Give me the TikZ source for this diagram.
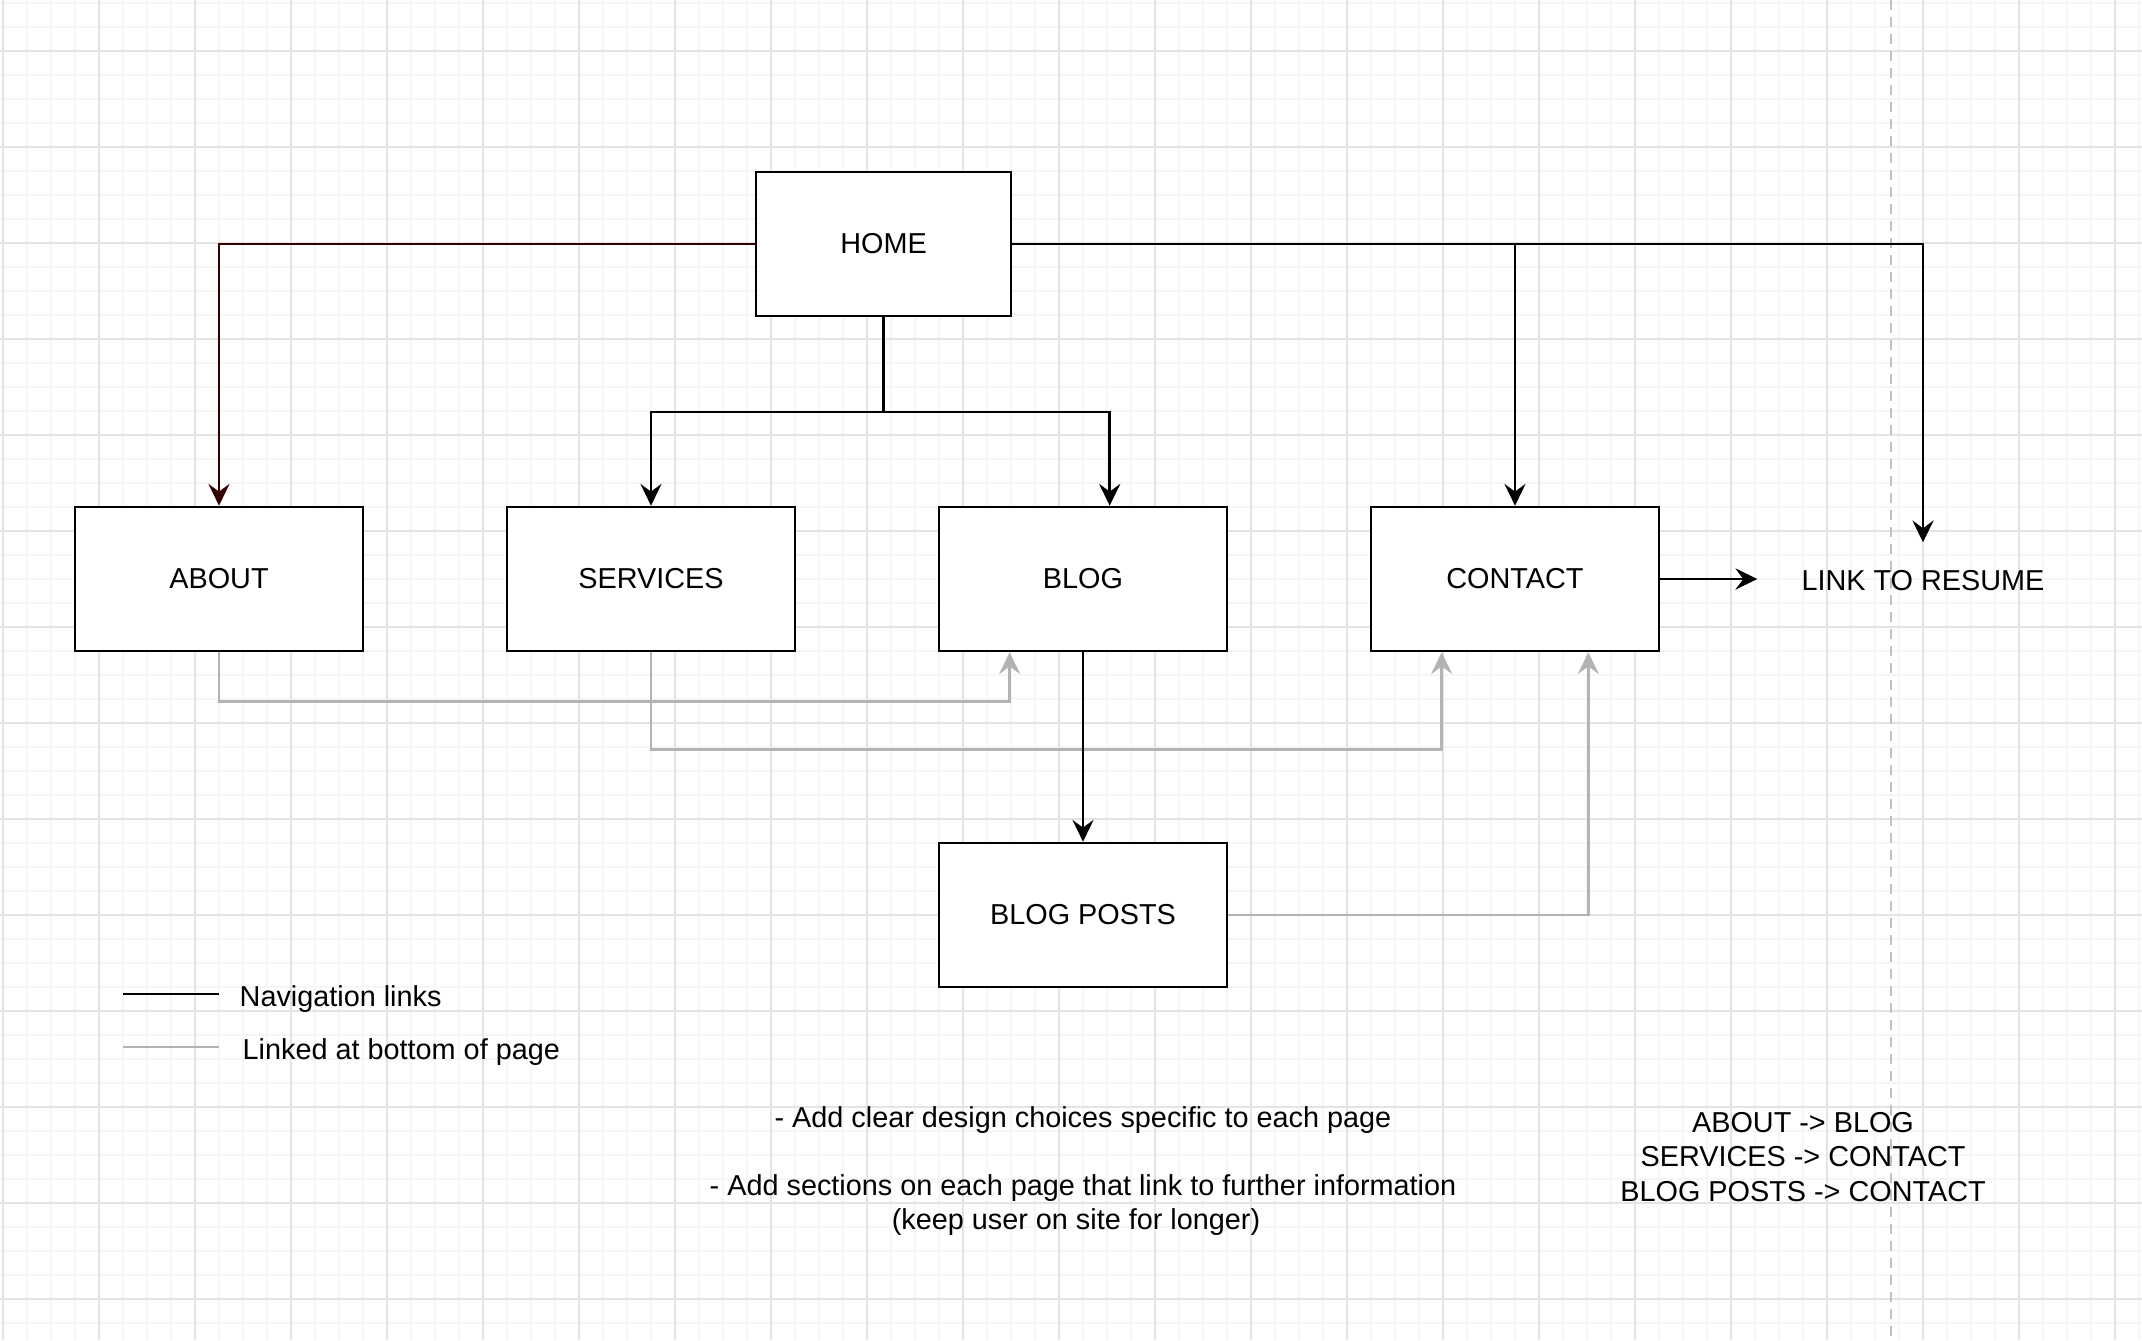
\documentclass[tikz,border=0pt]{standalone}
\usepackage{fontspec}
\setmainfont{Liberation Sans}
\usetikzlibrary{arrows.meta}
\definecolor{linkgray}{RGB}{179,179,179}
\definecolor{homebrown}{RGB}{51,0,0}
\definecolor{minorgray}{RGB}{246,246,246}
\definecolor{majorgray}{RGB}{228,228,228}
\definecolor{breakgray}{RGB}{192,192,192}

\begin{document}
\begin{tikzpicture}
	[x=0.1mm,y=-0.1mm,font=\fontsize{8.2}{9.7}\selectfont,
	page/.style={rectangle,draw=black,fill=white,line width=0.75pt,minimum width=28.8mm,minimum height=14.4mm,inner sep=0pt},
	nav/.style={draw=black,line width=0.75pt,-{Stealth[length=6.2pt,width=6pt,inset=2.2pt]}},
	homelink/.style={nav,draw=homebrown},
	footlink/.style={draw=linkgray,line width=0.75pt,-{Stealth[length=6.2pt,width=6pt,inset=2.2pt]}},
	minorline/.style={draw=minorgray,line width=0.5pt},
	majorline/.style={draw=majorgray,line width=0.5pt},
	pagebreak/.style={draw=breakgray,line width=0.55pt,dash pattern=on 1mm off 0.7mm}]
    \useasboundingbox (0,0) rectangle (2142,1340);
    \fill[white] (0,0) rectangle (2142,1340);
    \foreach \gx in {3,27,...,2142} \draw[minorline] (\gx,0) -- (\gx,1340);
    \foreach \gy in {3,27,...,1340} \draw[minorline] (0,\gy) -- (2142,\gy);
    \foreach \gx in {3,99,...,2142} \draw[majorline] (\gx,0) -- (\gx,1340);
    \foreach \gy in {51,147,...,1340} \draw[majorline] (0,\gy) -- (2142,\gy);
    \draw[pagebreak] (1891,0) -- (1891,1340);

    \node[page,minimum width=25.5mm] at (883.5,244) (home) {HOME};
    \node[page] at (219,579)  (about)    {ABOUT};
    \node[page] at (651,579)  (services) {SERVICES};
    \node[page] at (1083,579) (blog)     {BLOG};
    \node[page] at (1515,579) (contact)  {CONTACT};
    \node[page] at (1083,915) (posts)    {BLOG POSTS};
    \node[minimum width=33mm,minimum height=7.6mm,inner sep=0pt] at (1923,581) (resume) {LINK TO RESUME};

    \draw[footlink] (about.south) -- ++(0,49) -| (blog.-135);
    \draw[footlink] (services.south) -- ++(0,97) -| (contact.-135);
    \draw[footlink] (posts.east) -| (contact.-45);

    \coordinate (fork) at (883.5,412);
    \draw[homelink] (home.west) -| (about.north);
    \draw[nav] (home.south) -- (fork) -| (services.north);
    \draw[nav] (fork) -| (blog.70);
    \draw[nav] (home.east) -| (contact.north);
    \draw[nav] (home.east) -| (resume.north);
    \draw[nav] (contact.east) -- (contact.east -| resume.west);
    \draw[nav] (blog.south) -- (posts.north);

    \draw[line width=0.75pt] (123,994) -- (219,994);
    \draw[line width=0.75pt,draw=linkgray] (123,1047) -- (219,1047);
    \node[anchor=west,inner sep=0pt] at (239,999)  (navkey)  {Navigation links};
    \node[anchor=west,inner sep=0pt] at (242,1052) (footkey) {Linked at bottom of page};

    \node[align=center] at (1083,1171) (tips) {- Add clear design choices specific to each page\\[9.7pt]- Add sections on each page that link to further information\\(keep user on site for longer)\rule{4pt}{0pt}};
    \node[align=center] at (1803,1157) (order) {ABOUT -> BLOG\\SERVICES -> CONTACT\\BLOG POSTS -> CONTACT};
\end{tikzpicture}
\end{document}
